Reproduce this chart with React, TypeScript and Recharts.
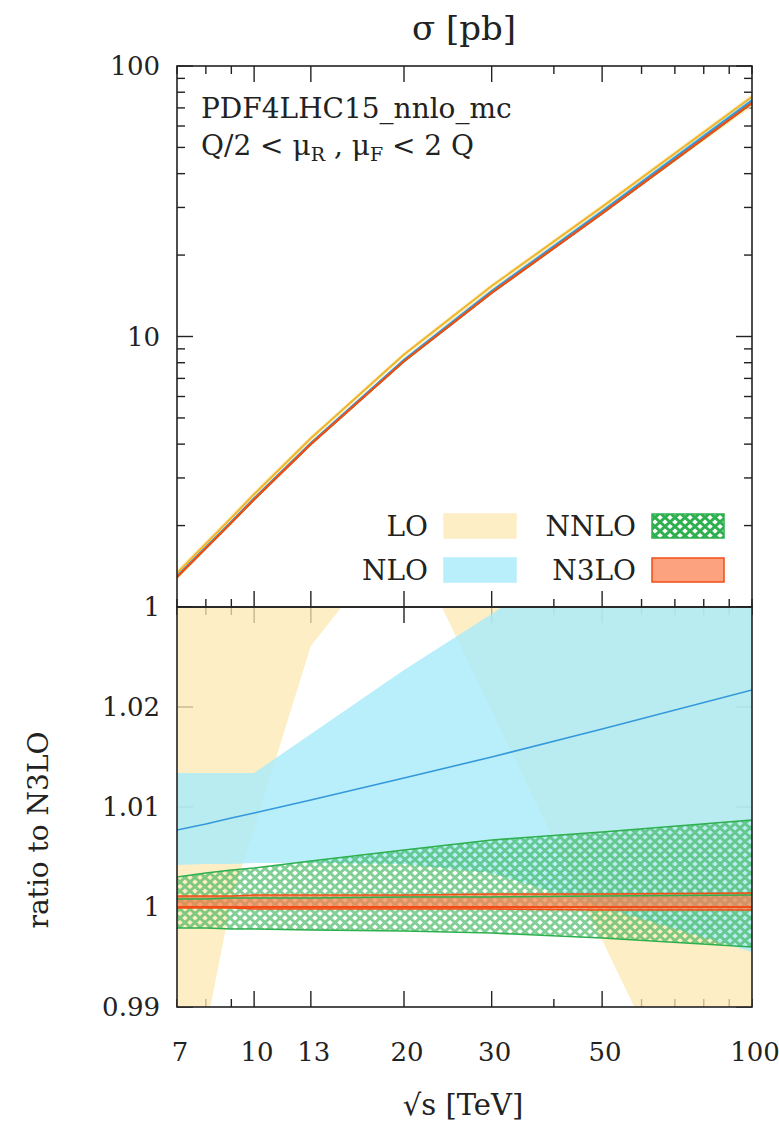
import React from 'react';
import { ComposedChart, Area, Line, XAxis, YAxis } from 'recharts';

const W = 779;
const H = 1129;
const FONT = '"DejaVu Serif", serif';
const INK = '#222';

// sqrt(s) grid [TeV]
const energies = [7, 8, 9, 10, 13, 20, 30, 50, 100];
// N3LO cross section [pb]
const sigmaN3LO = [1.29, 1.65, 2.05, 2.5, 4.0, 8.1, 14.5, 28.5, 73];

// scale bands as ratio to N3LO
const loLow = [0.973, 0.9877, 1.0007, 1.0079, 1.0261, 1.0379, 1.0196, 0.9967, 0.9655];
const loCentral = [1.035, 1.038, 1.042, 1.045, 1.052, 1.06, 1.06, 1.058, 1.055];
const loHigh = [1.065, 1.068, 1.07, 1.072, 1.075, 1.08, 1.08, 1.08, 1.08];
const nloLow = [1.0042, 1.0043, 1.0043, 1.0044, 1.0044, 1.0043, 1.0034, 1.0, 0.9955];
const nloCentral = [1.0077, 1.0083, 1.0089, 1.0094, 1.0107, 1.0129, 1.015, 1.0178, 1.0217];
const nloHigh = [1.0134, 1.0134, 1.0134, 1.0134, 1.0173, 1.0237, 1.0293, 1.0367, 1.047];
const nnloLow = [0.9979, 0.9979, 0.9978, 0.9978, 0.9977, 0.9976, 0.9974, 0.9969, 0.996];
const nnloCentral = [1.0008, 1.0008, 1.0009, 1.0009, 1.0009, 1.001, 1.001, 1.0011, 1.0012];
const nnloHigh = [1.003, 1.0034, 1.0037, 1.0039, 1.0046, 1.0057, 1.0067, 1.0075, 1.0087];
const n3loLow = [0.9999, 0.9999, 0.9999, 0.9998, 0.9998, 0.9998, 0.9998, 0.9997, 0.9997];
const n3loCentral = [1, 1, 1, 1, 1, 1, 1, 1, 1];
const n3loHigh = [1.0011, 1.0011, 1.0011, 1.0012, 1.0012, 1.0012, 1.0013, 1.0013, 1.0014];

// axis ticks
const xTicks = [7, 8, 9, 10, 13, 20, 30, 40, 50, 60, 70, 80, 90, 100];
const xLabels = [7, 10, 13, 20, 30, 50, 100];
const xLong = [10, 13, 20, 30, 50];
const sigmaTicks = [1, 2, 3, 4, 5, 6, 7, 8, 9, 10, 20, 30, 40, 50, 60, 70, 80, 90, 100];
const sigmaLabels = [1, 10, 100];
const sigmaLong = [1, 10, 100];
const ratioTicks = [0.99, 1, 1.01, 1.02, 1.03];
const ratioLabels = [0.99, 1, 1.01, 1.02];

const C = {
  lo: '#fee8b2',
  loLine: '#efb52a',
  nlo: '#a6ebfa',
  nloLine: '#3498db',
  nnlo: '#2eb04f',
  n3lo: '#f98050',
  n3loLine: '#f24d16',
};

const ratioData = energies.map((e, i) => ({
  e,
  lo: [loLow[i], loHigh[i]],
  loC: loCentral[i],
  nlo: [nloLow[i], nloHigh[i]],
  nloC: nloCentral[i],
  nnlo: [nnloLow[i], nnloHigh[i]],
  nnloC: nnloCentral[i],
  n3lo: [n3loLow[i], n3loHigh[i]],
  n3loC: n3loCentral[i],
}));

const sigmaData = energies.map((e, i) => {
  const s = sigmaN3LO[i];
  return {
    e,
    lo: [s * loLow[i], s * loHigh[i]],
    loC: s * loCentral[i],
    nlo: [s * nloLow[i], s * nloHigh[i]],
    nloC: s * nloCentral[i],
    nnlo: [s * nnloLow[i], s * nnloHigh[i]],
    nnloC: s * nnloCentral[i],
    n3lo: [s * n3loLow[i], s * n3loHigh[i]],
    n3loC: s * n3loCentral[i],
  };
});

type TickProps = { x: number; y: number; payload: { value: number } };

const bottomTick = (withLabels: boolean) => ({ x, y, payload }: TickProps) => {
  const v = payload.value;
  const len = xLong.includes(v) ? 16 : 8;
  return (
    <g>
      <line x1={x} y1={y} x2={x} y2={y - len} stroke={INK} strokeWidth={1.4} />
      {withLabels && xLabels.includes(v) && (
        <text x={x + 3} y={y + 54} textAnchor="middle" fontFamily={FONT} fontSize={26} fill={INK}>
          {v}
        </text>
      )}
    </g>
  );
};

const topTick = ({ x, y, payload }: TickProps) => {
  const len = xLong.includes(payload.value) ? 16 : 8;
  return <line x1={x} y1={y} x2={x} y2={y + len} stroke={INK} strokeWidth={1.4} />;
};

const leftTick = (labels: number[], long: number[] | null) => ({ x, y, payload }: TickProps) => {
  const v = payload.value;
  const len = !long || long.includes(v) ? 16 : 8;
  return (
    <g>
      <line x1={x} y1={y} x2={x + len} y2={y} stroke={INK} strokeWidth={1.4} />
      {labels.includes(v) && (
        <text x={x - 17} y={y + 9} textAnchor="end" fontFamily={FONT} fontSize={26} fill={INK}>
          {v}
        </text>
      )}
    </g>
  );
};

const rightTick = (long: number[] | null) => ({ x, y, payload }: TickProps) => {
  const len = !long || long.includes(payload.value) ? 16 : 8;
  return <line x1={x} y1={y} x2={x - len} y2={y} stroke={INK} strokeWidth={1.4} />;
};

// gnuplot-like crosshatch for the NNLO band
const Hatch = ({ id }: { id: string }) => (
  <pattern id={id} width={10} height={9} patternUnits="userSpaceOnUse">
    <path d="M-1,-0.9 L11,9.9 M11,-0.9 L-1,9.9" stroke={C.nnlo} strokeWidth={2.9} />
  </pattern>
);

interface PanelProps {
  data: any[];
  yScale: 'log' | 'linear';
  yDomain: [number, number];
  yTicks: number[];
  yLabels: number[];
  yLong: number[] | null;
  topH: number;
  bottomH: number;
  showXLabels: boolean;
  hatchId: string;
  lineScale: number;
}

function Panel(p: PanelProps) {
  const axes = (back: boolean) => [
    <XAxis
      key="xb"
      dataKey="e"
      type="number"
      scale="log"
      domain={[7, 100]}
      allowDataOverflow
      ticks={xTicks}
      interval={0}
      height={p.bottomH}
      axisLine={false}
      tickLine={false}
      tickSize={0}
      tickMargin={0}
      tick={back ? bottomTick(p.showXLabels) : false}
    />,
    <XAxis
      key="xt"
      xAxisId="t"
      orientation="top"
      dataKey="e"
      type="number"
      scale="log"
      domain={[7, 100]}
      allowDataOverflow
      ticks={xTicks}
      interval={0}
      height={p.topH}
      axisLine={false}
      tickLine={false}
      tickSize={0}
      tickMargin={0}
      tick={back ? topTick : false}
    />,
    <YAxis
      key="yl"
      type="number"
      scale={p.yScale}
      domain={p.yDomain}
      allowDataOverflow
      ticks={p.yTicks}
      interval={0}
      width={177}
      axisLine={false}
      tickLine={false}
      tickSize={0}
      tickMargin={0}
      tick={back ? leftTick(p.yLabels, p.yLong) : false}
    />,
    <YAxis
      key="yr"
      yAxisId="r"
      orientation="right"
      type="number"
      scale={p.yScale}
      domain={p.yDomain}
      allowDataOverflow
      ticks={p.yTicks}
      interval={0}
      width={27}
      axisLine={false}
      tickLine={false}
      tickSize={0}
      tickMargin={0}
      tick={back ? rightTick(p.yLong) : false}
    />,
  ];
  const margin = { top: 0, right: 0, bottom: 0, left: 0 };
  const k = p.lineScale;
  return (
    <>
      {/* ticks sit behind the bands, as in the original */}
      <div style={{ position: 'absolute', left: 0, top: 0 }}>
        <ComposedChart width={W} height={H} data={p.data} margin={margin}>
          {axes(true)}
          <Line dataKey="n3loC" stroke="none" dot={false} isAnimationActive={false} />
        </ComposedChart>
      </div>
      <div style={{ position: 'absolute', left: 0, top: 0 }}>
        <ComposedChart width={W} height={H} data={p.data} margin={margin}>
          <defs>
            <Hatch id={p.hatchId} />
          </defs>
          {axes(false)}
          <Area dataKey="lo" type="linear" fill={C.lo} fillOpacity={0.75} stroke="none" dot={false} activeDot={false} isAnimationActive={false} />
          <Line dataKey="loC" type="linear" stroke={C.loLine} strokeWidth={1.5 * k} dot={false} activeDot={false} isAnimationActive={false} />
          <Area dataKey="nlo" type="linear" fill={C.nlo} fillOpacity={0.8} stroke="none" dot={false} activeDot={false} isAnimationActive={false} />
          <Line dataKey="nloC" type="linear" stroke={C.nloLine} strokeWidth={1.6 * k} dot={false} activeDot={false} isAnimationActive={false} />
          <Area dataKey="nnlo" type="linear" fill={`url(#${p.hatchId})`} stroke={C.nnlo} strokeWidth={1.6} dot={false} activeDot={false} isAnimationActive={false} />
          <Line dataKey="nnloC" type="linear" stroke={C.nnlo} strokeWidth={1.5} dot={false} activeDot={false} isAnimationActive={false} />
          <Area dataKey="n3lo" type="linear" fill={C.n3lo} fillOpacity={0.72} stroke={C.n3loLine} strokeWidth={1.5} dot={false} activeDot={false} isAnimationActive={false} />
          <Line dataKey="n3loC" type="linear" stroke={C.n3loLine} strokeWidth={2.2} dot={false} activeDot={false} isAnimationActive={false} />
        </ComposedChart>
      </div>
    </>
  );
}

const legendRows = [
  { label: 'LO', x: 444, y: 514, fill: '#feeec5', stroke: '#feeec5' },
  { label: 'NNLO', x: 652, y: 514, fill: 'url(#hatchLegend)', stroke: C.nnlo },
  { label: 'NLO', x: 444, y: 558, fill: '#b8effb', stroke: '#b8effb' },
  { label: 'N3LO', x: 652, y: 558, fill: '#fca27e', stroke: C.n3loLine },
];

function Overlay() {
  const txt = { fontFamily: FONT, fill: INK };
  return (
    <svg width={W} height={H} style={{ position: 'absolute', left: 0, top: 0, pointerEvents: 'none' }}>
      <defs>
        <Hatch id="hatchLegend" />
      </defs>
      <rect x={177} y={66} width={575} height={541} fill="none" stroke={INK} strokeWidth={1.6} />
      <rect x={177} y={607} width={575} height={400} fill="none" stroke={INK} strokeWidth={1.6} />

      <text x={464} y={40} textAnchor="middle" fontSize={34} {...txt}>σ [pb]</text>
      <text x={201} y={118} fontSize={28} {...txt}>PDF4LHC15_nnlo_mc</text>
      <text x={201} y={155} fontSize={28} {...txt}>
        <tspan>Q/2 &lt; μ</tspan>
        <tspan fontSize={19} dy={6}>R</tspan>
        <tspan dy={-6}> , μ</tspan>
        <tspan fontSize={19} dy={6}>F</tspan>
        <tspan dy={-6}> &lt; 2 Q</tspan>
      </text>

      {legendRows.map((r) => (
        <g key={r.label}>
          <text x={r.x - 16} y={r.y + 22} textAnchor="end" fontSize={28} {...txt}>{r.label}</text>
          <rect x={r.x} y={r.y} width={72} height={24} fill="#fff" />
          <rect x={r.x} y={r.y} width={72} height={24} fill={r.fill} stroke={r.stroke} strokeWidth={1.5} />
        </g>
      ))}

      <text x={48} y={830} textAnchor="middle" fontSize={28} transform="rotate(-90 48 830)" {...txt}>
        ratio to N3LO
      </text>
      <text x={463} y={1115} textAnchor="middle" fontSize={29} {...txt}>√s [TeV]</text>
    </svg>
  );
}

export default function App() {
  return (
    <div style={{ position: 'absolute', left: 0, top: 0, width: W, height: H, background: '#fff', overflow: 'hidden' }}>
      <Panel
        data={sigmaData}
        yScale="log"
        yDomain={[1, 100]}
        yTicks={sigmaTicks}
        yLabels={sigmaLabels}
        yLong={sigmaLong}
        topH={66}
        bottomH={H - 607}
        showXLabels={false}
        hatchId="hatchTop"
        lineScale={1.3}
      />
      <Panel
        data={ratioData}
        yScale="linear"
        yDomain={[0.99, 1.03]}
        yTicks={ratioTicks}
        yLabels={ratioLabels}
        yLong={null}
        topH={607}
        bottomH={H - 1007}
        showXLabels
        hatchId="hatchBottom"
        lineScale={1}
      />
      <Overlay />
    </div>
  );
}
